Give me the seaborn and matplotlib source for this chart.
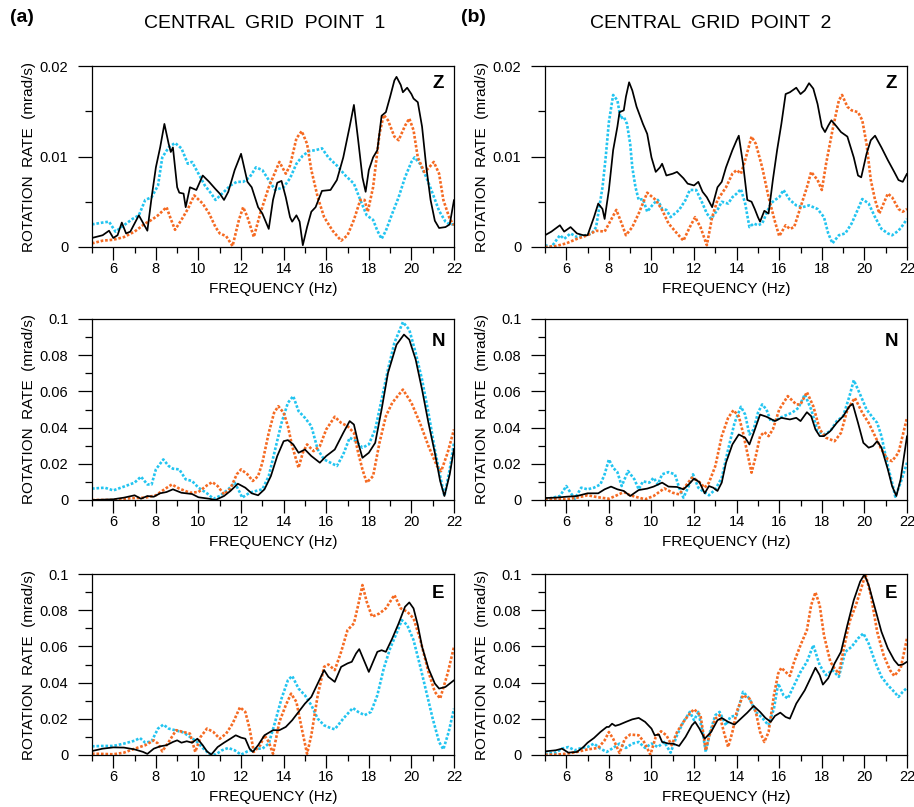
import numpy as np
import pandas as pd
import seaborn as sns
import matplotlib
matplotlib.use("Agg")
import matplotlib.pyplot as plt
from matplotlib.ticker import MultipleLocator, FuncFormatter

# ---------------- DATA ----------------
PANEL_TITLES = ["CENTRAL  GRID  POINT  1", "CENTRAL  GRID  POINT  2"]
PANEL_TAGS = ["(a)", "(b)"]
COMPONENTS = ["Z", "N", "E"]
X_LABEL = "FREQUENCY (Hz)"
Y_LABEL = "ROTATION  RATE  (mrad/s)"

# ---- Point 1, Z ----
A_Z_BLACK_F = [5.0,5.5,5.8,6.0,6.2,6.4,6.6,6.8,7.2,7.6,7.8,8.0,8.2,8.4,8.6,8.7,8.8,9.0,9.1,9.3,9.4,9.6,9.9,10.2,10.5,10.8,11.0,11.2,11.4,11.7,12.0,12.3,12.5,12.8,13.0,13.3,13.5,13.7,13.9,14.1,14.3,14.4,14.6,14.75,14.9,15.1,15.3,15.5,15.8,16.2,16.5,16.8,17.1,17.3,17.5,17.7,17.85,18.0,18.2,18.4,18.6,18.8,19.0,19.2,19.3,19.5,19.6,19.8,20.0,20.1,20.3,20.5,20.7,20.9,21.1,21.3,21.6,21.8,22.0]
A_Z_BLACK_V = [0.0010,0.0013,0.0018,0.0010,0.0013,0.0027,0.0015,0.0017,0.0035,0.0018,0.0055,0.0088,0.0110,0.0136,0.0114,0.0105,0.0110,0.0066,0.0060,0.0059,0.0044,0.0066,0.0063,0.0079,0.0072,0.0064,0.0059,0.0052,0.0061,0.0085,0.0103,0.0072,0.0066,0.0044,0.0037,0.0020,0.0052,0.0071,0.0073,0.0055,0.0033,0.0028,0.0035,0.0028,0.0002,0.0022,0.0039,0.0044,0.0062,0.0063,0.0074,0.0099,0.0133,0.0157,0.0118,0.0077,0.0061,0.0085,0.0099,0.0107,0.0145,0.0149,0.0166,0.0184,0.0188,0.0179,0.0171,0.0176,0.0169,0.0164,0.0160,0.0133,0.0088,0.0052,0.0029,0.0021,0.0022,0.0025,0.0052]
A_Z_ORANGE_F = [5.0,5.5,6.0,6.5,7.0,7.5,7.8,8.1,8.5,8.7,8.9,9.2,9.5,9.8,10.2,10.5,10.8,11.0,11.3,11.6,11.9,12.1,12.3,12.6,12.9,13.3,13.8,14.1,14.3,14.6,14.85,15.1,15.3,15.6,15.9,16.3,16.7,17.0,17.3,17.6,17.8,17.95,18.2,18.5,18.7,18.9,19.2,19.4,19.7,19.9,20.1,20.3,20.6,20.8,21.05,21.3,21.5,21.8,22.0]
A_Z_ORANGE_V = [0.0004,0.0007,0.0008,0.0011,0.0017,0.0026,0.0030,0.0035,0.0044,0.0031,0.0019,0.0030,0.0042,0.0057,0.0048,0.0037,0.0022,0.0015,0.0012,0.0001,0.0030,0.0044,0.0033,0.0011,0.0037,0.0066,0.0094,0.0081,0.0090,0.0120,0.0128,0.0114,0.0085,0.0055,0.0033,0.0018,0.0007,0.0013,0.0030,0.0052,0.0052,0.0039,0.0066,0.0125,0.0146,0.0140,0.0122,0.0118,0.0134,0.0142,0.0129,0.0099,0.0083,0.0087,0.0094,0.0081,0.0052,0.0031,0.0024]
A_Z_CYAN_F = [5.0,5.5,5.8,6.1,6.5,6.9,7.2,7.5,7.8,8.1,8.3,8.6,8.9,9.2,9.5,9.7,10.0,10.3,10.6,10.8,11.2,11.5,11.8,12.1,12.4,12.7,13.0,13.3,13.6,14.0,14.3,14.6,14.9,15.2,15.5,15.8,16.1,16.5,16.9,17.3,17.6,17.9,18.2,18.4,18.6,18.8,19.1,19.4,19.7,20.0,20.15,20.4,20.7,21.0,21.3,21.6,21.8,22.0]
A_Z_CYAN_V = [0.0025,0.0027,0.0028,0.0017,0.0024,0.0031,0.0035,0.0052,0.0055,0.0068,0.0099,0.0110,0.0115,0.0109,0.0092,0.0094,0.0081,0.0068,0.0059,0.0052,0.0061,0.0068,0.0072,0.0072,0.0077,0.0088,0.0085,0.0074,0.0063,0.0066,0.0076,0.0092,0.0101,0.0106,0.0107,0.0109,0.0099,0.0090,0.0079,0.0070,0.0052,0.0035,0.0030,0.0018,0.0009,0.0018,0.0037,0.0055,0.0077,0.0094,0.0099,0.0092,0.0077,0.0059,0.0040,0.0028,0.0025,0.0025]

# ---- Point 2, Z ----
B_Z_BLACK_F = [5.0,5.3,5.7,5.9,6.2,6.5,6.8,7.0,7.3,7.5,7.7,7.8,8.0,8.2,8.4,8.5,8.7,8.8,8.95,9.1,9.3,9.6,9.8,10.0,10.2,10.4,10.5,10.7,11.0,11.2,11.5,11.7,12.0,12.2,12.4,12.6,12.85,13.1,13.3,13.5,13.8,14.0,14.1,14.3,14.5,14.7,14.85,15.0,15.1,15.3,15.5,15.7,15.9,16.1,16.3,16.5,16.8,17.0,17.2,17.4,17.6,17.8,18.0,18.15,18.3,18.45,18.7,18.9,19.2,19.5,19.7,19.85,20.1,20.3,20.5,20.8,21.1,21.4,21.6,21.8,22.0]
B_Z_BLACK_V = [0.0013,0.0017,0.0024,0.0017,0.0022,0.0015,0.0013,0.0013,0.0033,0.0048,0.0042,0.0031,0.0063,0.0107,0.0133,0.0149,0.0151,0.0166,0.0182,0.0173,0.0155,0.0136,0.0125,0.0099,0.0083,0.0088,0.0092,0.0079,0.0081,0.0083,0.0076,0.0070,0.0068,0.0072,0.0061,0.0055,0.0044,0.0066,0.0072,0.0088,0.0107,0.0118,0.0123,0.0092,0.0052,0.0050,0.0042,0.0033,0.0028,0.0040,0.0037,0.0074,0.0107,0.0136,0.0169,0.0171,0.0176,0.0169,0.0173,0.0181,0.0175,0.0158,0.0133,0.0127,0.0134,0.0140,0.0133,0.0127,0.0122,0.0099,0.0079,0.0077,0.0103,0.0118,0.0123,0.0110,0.0096,0.0083,0.0074,0.0072,0.0081]
B_Z_ORANGE_F = [5.0,5.5,6.0,6.5,7.0,7.4,7.8,8.1,8.35,8.6,8.8,9.1,9.4,9.8,10.2,10.5,10.8,11.2,11.5,11.8,12.05,12.3,12.6,12.85,13.1,13.5,13.8,14.0,14.2,14.4,14.7,14.9,15.2,15.5,15.8,16.0,16.3,16.5,16.7,17.0,17.3,17.5,17.8,18.0,18.2,18.5,18.8,18.95,19.2,19.4,19.7,19.9,20.1,20.3,20.5,20.7,20.9,21.1,21.3,21.6,21.8,22.0]
B_Z_ORANGE_V = [0.0000,0.0001,0.0004,0.0009,0.0013,0.0018,0.0017,0.0030,0.0041,0.0026,0.0013,0.0022,0.0037,0.0060,0.0052,0.0041,0.0026,0.0015,0.0007,0.0022,0.0033,0.0022,0.0002,0.0033,0.0052,0.0066,0.0081,0.0085,0.0081,0.0096,0.0122,0.0114,0.0088,0.0055,0.0028,0.0012,0.0024,0.0020,0.0022,0.0044,0.0066,0.0083,0.0074,0.0063,0.0092,0.0129,0.0162,0.0168,0.0155,0.0151,0.0149,0.0140,0.0114,0.0074,0.0052,0.0037,0.0048,0.0059,0.0055,0.0042,0.0039,0.0042]
B_Z_CYAN_F = [5.0,5.3,5.7,5.9,6.2,6.5,6.9,7.2,7.4,7.55,7.7,7.85,8.0,8.2,8.4,8.55,8.7,8.85,9.0,9.1,9.25,9.4,9.6,9.8,10.1,10.3,10.5,10.7,10.9,11.3,11.6,11.8,12.1,12.4,12.6,12.8,13.1,13.3,13.6,13.8,14.0,14.2,14.4,14.6,14.8,15.0,15.2,15.4,15.6,15.8,16.0,16.2,16.5,16.8,17.1,17.4,17.8,18.1,18.3,18.5,18.8,19.1,19.4,19.7,19.9,20.2,20.5,20.8,21.1,21.3,21.6,21.8,22.0]
B_Z_CYAN_V = [0.0002,0.0000,0.0013,0.0009,0.0015,0.0011,0.0013,0.0015,0.0022,0.0044,0.0066,0.0099,0.0138,0.0168,0.0162,0.0142,0.0144,0.0136,0.0114,0.0088,0.0066,0.0052,0.0053,0.0039,0.0048,0.0052,0.0042,0.0041,0.0033,0.0041,0.0052,0.0063,0.0063,0.0048,0.0037,0.0031,0.0041,0.0050,0.0048,0.0055,0.0059,0.0064,0.0048,0.0022,0.0026,0.0024,0.0026,0.0037,0.0048,0.0052,0.0055,0.0063,0.0052,0.0046,0.0044,0.0046,0.0042,0.0033,0.0015,0.0004,0.0013,0.0015,0.0026,0.0042,0.0053,0.0048,0.0033,0.0020,0.0015,0.0013,0.0018,0.0024,0.0031]

# ---- Point 1, N ----
A_N_BLACK_F = [5.0,6.0,6.5,7.0,7.3,7.6,7.9,8.2,8.5,8.8,9.2,9.7,10.0,10.5,10.8,11.2,11.5,11.85,12.2,12.5,12.8,13.1,13.4,13.7,14.0,14.2,14.45,14.7,15.0,15.3,15.7,16.0,16.4,16.8,17.1,17.3,17.5,17.7,18.0,18.3,18.6,18.9,19.3,19.65,19.9,20.2,20.5,20.8,21.1,21.35,21.55,21.8,22.0]
A_N_BLACK_V = [0.0000,0.0004,0.0013,0.0026,0.0007,0.0022,0.0018,0.0037,0.0044,0.0059,0.0040,0.0033,0.0015,0.0007,0.0000,0.0022,0.0050,0.0090,0.0068,0.0037,0.0026,0.0059,0.0132,0.0243,0.0325,0.0331,0.0307,0.0261,0.0279,0.0243,0.0206,0.0243,0.0279,0.0371,0.0436,0.0417,0.0316,0.0233,0.0261,0.0316,0.0500,0.0702,0.0858,0.0914,0.0886,0.0776,0.0610,0.0426,0.0261,0.0105,0.0022,0.0142,0.0283]
A_N_ORANGE_F = [5.0,6.0,6.5,7.0,7.5,8.0,8.4,8.75,9.1,9.6,10.0,10.4,10.65,10.9,11.2,11.5,11.8,12.0,12.3,12.55,12.8,13.0,13.3,13.55,13.75,14.0,14.2,14.4,14.7,14.9,15.1,15.4,15.7,16.0,16.4,16.7,17.0,17.3,17.5,17.7,17.9,18.2,18.5,18.8,19.1,19.6,20.0,20.4,20.8,21.2,21.4,21.7,22.0]
A_N_ORANGE_V = [0.0000,0.0000,0.0007,0.0011,0.0013,0.0026,0.0059,0.0086,0.0063,0.0040,0.0044,0.0081,0.0099,0.0077,0.0031,0.0063,0.0142,0.0169,0.0142,0.0105,0.0132,0.0206,0.0371,0.0482,0.0518,0.0482,0.0408,0.0298,0.0178,0.0261,0.0307,0.0270,0.0298,0.0390,0.0460,0.0426,0.0408,0.0371,0.0261,0.0169,0.0096,0.0132,0.0316,0.0463,0.0537,0.0610,0.0537,0.0426,0.0298,0.0188,0.0160,0.0261,0.0390]
A_N_CYAN_F = [5.0,5.6,6.0,6.5,7.0,7.3,7.6,7.8,8.0,8.35,8.6,8.8,9.1,9.4,9.7,10.0,10.4,10.7,11.0,11.4,11.7,11.95,12.05,12.4,12.7,13.0,13.3,13.6,13.9,14.2,14.45,14.7,15.0,15.3,15.6,15.9,16.2,16.5,16.8,17.1,17.4,17.7,18.0,18.3,18.6,18.9,19.2,19.6,19.9,20.2,20.5,20.8,21.1,21.35,21.55,21.8,22.0]
A_N_CYAN_V = [0.0063,0.0068,0.0053,0.0074,0.0096,0.0129,0.0086,0.0086,0.0169,0.0224,0.0188,0.0173,0.0169,0.0114,0.0105,0.0068,0.0037,0.0007,0.0022,0.0059,0.0096,0.0040,0.0013,0.0040,0.0050,0.0059,0.0132,0.0279,0.0426,0.0537,0.0574,0.0491,0.0454,0.0408,0.0279,0.0224,0.0206,0.0188,0.0252,0.0344,0.0325,0.0289,0.0307,0.0390,0.0555,0.0721,0.0868,0.0983,0.0941,0.0813,0.0665,0.0482,0.0279,0.0132,0.0022,0.0169,0.0316]

# ---- Point 2, N ----
B_N_BLACK_F = [5.0,5.5,6.0,6.5,7.0,7.5,7.8,8.1,8.4,8.7,9.0,9.4,9.8,10.1,10.5,10.8,11.2,11.5,11.75,12.0,12.25,12.5,12.7,12.9,13.1,13.3,13.5,13.8,14.1,14.4,14.6,14.8,15.1,15.4,15.8,16.1,16.5,16.8,17.0,17.3,17.5,17.7,17.9,18.1,18.4,18.7,19.0,19.3,19.45,19.7,19.95,20.2,20.4,20.6,20.8,21.1,21.3,21.5,21.7,22.0]
B_N_BLACK_V = [0.0011,0.0013,0.0018,0.0022,0.0037,0.0037,0.0059,0.0074,0.0059,0.0050,0.0022,0.0055,0.0063,0.0074,0.0096,0.0074,0.0072,0.0059,0.0086,0.0118,0.0099,0.0037,0.0077,0.0068,0.0050,0.0096,0.0206,0.0307,0.0362,0.0344,0.0307,0.0371,0.0472,0.0460,0.0436,0.0454,0.0445,0.0454,0.0436,0.0485,0.0463,0.0390,0.0353,0.0353,0.0381,0.0426,0.0463,0.0518,0.0531,0.0426,0.0316,0.0289,0.0298,0.0325,0.0289,0.0169,0.0077,0.0022,0.0114,0.0353]
B_N_ORANGE_F = [5.0,6.0,6.5,7.0,7.5,8.0,8.3,8.7,9.0,9.4,9.7,10.1,10.6,11.0,11.3,11.6,11.9,12.2,12.5,12.7,13.0,13.3,13.6,13.85,14.1,14.3,14.5,14.7,14.9,15.1,15.3,15.5,15.7,16.0,16.4,16.8,17.0,17.3,17.6,17.9,18.2,18.6,18.9,19.2,19.55,19.9,20.2,20.5,20.8,21.1,21.3,21.6,22.0]
B_N_ORANGE_V = [0.0004,0.0004,0.0013,0.0026,0.0015,0.0007,0.0022,0.0044,0.0026,0.0013,0.0004,0.0022,0.0064,0.0040,0.0031,0.0077,0.0123,0.0105,0.0068,0.0096,0.0188,0.0353,0.0454,0.0496,0.0463,0.0371,0.0261,0.0151,0.0243,0.0353,0.0375,0.0353,0.0390,0.0500,0.0574,0.0528,0.0528,0.0596,0.0518,0.0390,0.0344,0.0325,0.0371,0.0500,0.0564,0.0482,0.0426,0.0353,0.0279,0.0224,0.0215,0.0261,0.0454]
B_N_CYAN_F = [5.0,5.3,5.7,6.0,6.2,6.4,6.7,7.0,7.3,7.6,7.8,8.0,8.2,8.4,8.6,8.9,9.2,9.4,9.6,9.9,10.1,10.3,10.5,10.8,11.1,11.3,11.5,11.75,11.95,12.2,12.4,12.7,13.0,13.3,13.6,13.9,14.2,14.4,14.6,14.8,15.0,15.2,15.4,15.6,15.9,16.2,16.6,16.9,17.2,17.5,17.8,18.1,18.4,18.7,19.0,19.3,19.5,19.8,20.1,20.4,20.6,20.8,21.1,21.3,21.45,21.7,22.0]
B_N_CYAN_V = [0.0004,0.0011,0.0022,0.0077,0.0040,0.0007,0.0068,0.0059,0.0068,0.0086,0.0142,0.0224,0.0178,0.0154,0.0077,0.0160,0.0114,0.0059,0.0103,0.0096,0.0123,0.0086,0.0142,0.0154,0.0142,0.0068,0.0013,0.0077,0.0142,0.0068,0.0050,0.0026,0.0059,0.0123,0.0279,0.0426,0.0515,0.0472,0.0362,0.0390,0.0482,0.0528,0.0500,0.0436,0.0445,0.0463,0.0482,0.0509,0.0583,0.0500,0.0381,0.0362,0.0381,0.0436,0.0463,0.0574,0.0662,0.0583,0.0500,0.0454,0.0426,0.0353,0.0188,0.0096,0.0018,0.0096,0.0206]

# ---- Point 1, E ----
A_E_BLACK_F = [5.0,5.5,6.0,6.5,7.0,7.4,7.6,7.9,8.2,8.5,8.8,9.0,9.2,9.45,9.7,9.95,10.2,10.4,10.6,10.9,11.2,11.5,11.75,12.0,12.2,12.4,12.55,12.8,13.1,13.5,13.8,14.1,14.4,14.7,15.0,15.3,15.6,15.9,16.1,16.4,16.7,17.0,17.2,17.4,17.55,17.8,18.0,18.2,18.4,18.6,18.8,19.1,19.4,19.7,19.9,20.1,20.3,20.5,20.8,21.1,21.3,21.6,22.0]
A_E_BLACK_V = [0.0022,0.0035,0.0042,0.0041,0.0031,0.0017,0.0006,0.0035,0.0048,0.0054,0.0072,0.0081,0.0068,0.0076,0.0068,0.0090,0.0054,0.0020,0.0002,0.0044,0.0068,0.0090,0.0109,0.0096,0.0090,0.0035,0.0017,0.0054,0.0109,0.0137,0.0137,0.0155,0.0192,0.0238,0.0284,0.0321,0.0395,0.0469,0.0432,0.0404,0.0487,0.0506,0.0515,0.0561,0.0585,0.0515,0.0459,0.0515,0.0570,0.0579,0.0570,0.0644,0.0727,0.0819,0.0843,0.0810,0.0718,0.0598,0.0478,0.0395,0.0367,0.0376,0.0413]
A_E_ORANGE_F = [5.0,5.5,6.0,6.5,7.0,7.5,7.9,8.1,8.3,8.6,8.95,9.3,9.6,9.85,10.1,10.4,10.7,11.0,11.3,11.6,11.95,12.2,12.4,12.6,12.9,13.1,13.3,13.5,13.8,14.1,14.35,14.6,14.85,15.1,15.3,15.6,15.9,16.1,16.4,16.7,17.0,17.3,17.5,17.7,17.9,18.15,18.5,18.8,19.2,19.5,19.8,20.1,20.4,20.8,21.1,21.35,21.7,22.0]
A_E_ORANGE_V = [0.0007,0.0006,0.0004,0.0013,0.0035,0.0054,0.0081,0.0063,0.0020,0.0072,0.0137,0.0127,0.0118,0.0017,0.0100,0.0146,0.0127,0.0090,0.0118,0.0173,0.0264,0.0238,0.0146,0.0017,0.0054,0.0109,0.0072,0.0007,0.0183,0.0275,0.0339,0.0293,0.0146,0.0007,0.0109,0.0330,0.0487,0.0500,0.0469,0.0570,0.0690,0.0727,0.0828,0.0939,0.0847,0.0764,0.0782,0.0810,0.0884,0.0810,0.0792,0.0755,0.0644,0.0459,0.0349,0.0312,0.0450,0.0598]
A_E_CYAN_F = [5.0,5.5,6.0,6.5,7.0,7.25,7.5,7.8,8.1,8.35,8.6,8.9,9.3,9.6,9.9,10.2,10.5,10.8,11.1,11.4,11.7,12.0,12.3,12.7,13.0,13.3,13.6,13.9,14.2,14.4,14.7,15.0,15.3,15.6,15.9,16.2,16.4,16.8,17.25,17.5,17.8,18.1,18.4,18.7,19.0,19.3,19.55,19.8,20.1,20.4,20.7,21.0,21.3,21.5,21.75,22.0]
A_E_CYAN_V = [0.0048,0.0050,0.0050,0.0063,0.0079,0.0094,0.0068,0.0076,0.0146,0.0168,0.0146,0.0137,0.0124,0.0100,0.0076,0.0039,0.0007,0.0002,0.0026,0.0039,0.0026,0.0002,0.0020,0.0035,0.0035,0.0063,0.0183,0.0312,0.0413,0.0437,0.0367,0.0330,0.0275,0.0201,0.0164,0.0149,0.0142,0.0201,0.0260,0.0238,0.0220,0.0238,0.0330,0.0478,0.0589,0.0672,0.0745,0.0718,0.0635,0.0496,0.0349,0.0201,0.0072,0.0031,0.0127,0.0256]

# ---- Point 2, E ----
B_E_BLACK_F = [5.0,5.5,5.8,6.1,6.5,6.8,7.0,7.3,7.6,7.9,8.0,8.15,8.3,8.5,8.8,9.1,9.4,9.7,10.0,10.15,10.35,10.5,10.8,11.0,11.3,11.6,11.9,12.05,12.25,12.5,12.8,13.1,13.3,13.6,13.9,14.2,14.5,14.8,15.1,15.35,15.6,15.8,16.05,16.3,16.5,16.8,17.2,17.5,17.7,17.9,18.05,18.3,18.6,18.9,19.2,19.5,19.8,20.0,20.2,20.5,20.8,21.1,21.4,21.6,21.8,22.0]
B_E_BLACK_V = [0.0020,0.0026,0.0035,0.0013,0.0017,0.0044,0.0068,0.0094,0.0127,0.0155,0.0155,0.0173,0.0161,0.0168,0.0183,0.0197,0.0205,0.0183,0.0146,0.0109,0.0113,0.0072,0.0063,0.0063,0.0050,0.0100,0.0164,0.0183,0.0146,0.0090,0.0127,0.0192,0.0205,0.0183,0.0168,0.0201,0.0234,0.0271,0.0238,0.0205,0.0183,0.0216,0.0234,0.0210,0.0201,0.0284,0.0358,0.0432,0.0482,0.0441,0.0389,0.0424,0.0506,0.0570,0.0718,0.0856,0.0958,0.0998,0.0939,0.0810,0.0681,0.0589,0.0524,0.0496,0.0500,0.0515]
B_E_ORANGE_F = [5.0,5.5,6.0,6.5,7.0,7.5,7.8,8.0,8.2,8.5,8.75,9.0,9.4,9.65,9.95,10.2,10.45,10.7,10.95,11.2,11.5,11.8,12.0,12.3,12.45,12.55,12.7,13.0,13.2,13.4,13.6,13.8,14.0,14.3,14.6,14.9,15.1,15.3,15.5,15.75,15.95,16.1,16.3,16.5,16.7,17.0,17.3,17.5,17.7,17.9,18.1,18.4,18.6,18.8,19.0,19.3,19.6,19.85,20.05,20.3,20.6,20.9,21.2,21.4,21.7,22.0]
B_E_ORANGE_V = [0.0002,0.0002,0.0007,0.0017,0.0031,0.0039,0.0081,0.0127,0.0090,0.0011,0.0090,0.0113,0.0109,0.0072,0.0002,0.0100,0.0131,0.0109,0.0054,0.0127,0.0183,0.0229,0.0253,0.0220,0.0109,0.0026,0.0100,0.0201,0.0220,0.0127,0.0044,0.0127,0.0238,0.0330,0.0312,0.0238,0.0127,0.0072,0.0127,0.0330,0.0450,0.0482,0.0459,0.0437,0.0515,0.0607,0.0690,0.0828,0.0899,0.0828,0.0662,0.0515,0.0478,0.0450,0.0570,0.0736,0.0828,0.0921,0.0998,0.0884,0.0681,0.0552,0.0469,0.0437,0.0478,0.0644]
B_E_CYAN_F = [5.0,5.5,5.8,6.1,6.4,6.7,7.0,7.3,7.6,7.9,8.2,8.5,8.8,9.1,9.4,9.7,10.0,10.3,10.6,10.9,11.2,11.5,11.8,12.0,12.2,12.4,12.55,12.75,13.0,13.2,13.5,13.7,14.0,14.3,14.6,14.9,15.2,15.5,15.75,15.95,16.2,16.4,16.7,17.0,17.3,17.6,17.9,18.2,18.5,18.8,19.1,19.4,19.7,19.95,20.2,20.5,20.8,21.1,21.4,21.6,21.8,22.0]
B_E_CYAN_V = [0.0007,0.0013,0.0035,0.0044,0.0026,0.0039,0.0044,0.0063,0.0035,0.0017,0.0039,0.0063,0.0039,0.0063,0.0072,0.0039,0.0063,0.0044,0.0072,0.0013,0.0109,0.0183,0.0238,0.0192,0.0238,0.0127,0.0017,0.0127,0.0220,0.0238,0.0164,0.0210,0.0220,0.0349,0.0312,0.0238,0.0205,0.0164,0.0256,0.0395,0.0330,0.0312,0.0386,0.0459,0.0515,0.0607,0.0496,0.0441,0.0469,0.0432,0.0570,0.0598,0.0644,0.0672,0.0616,0.0515,0.0432,0.0386,0.0349,0.0321,0.0349,0.0371]

SERIES = {
    ("a", "Z"): [(A_Z_BLACK_F, A_Z_BLACK_V), (A_Z_ORANGE_F, A_Z_ORANGE_V), (A_Z_CYAN_F, A_Z_CYAN_V)],
    ("b", "Z"): [(B_Z_BLACK_F, B_Z_BLACK_V), (B_Z_ORANGE_F, B_Z_ORANGE_V), (B_Z_CYAN_F, B_Z_CYAN_V)],
    ("a", "N"): [(A_N_BLACK_F, A_N_BLACK_V), (A_N_ORANGE_F, A_N_ORANGE_V), (A_N_CYAN_F, A_N_CYAN_V)],
    ("b", "N"): [(B_N_BLACK_F, B_N_BLACK_V), (B_N_ORANGE_F, B_N_ORANGE_V), (B_N_CYAN_F, B_N_CYAN_V)],
    ("a", "E"): [(A_E_BLACK_F, A_E_BLACK_V), (A_E_ORANGE_F, A_E_ORANGE_V), (A_E_CYAN_F, A_E_CYAN_V)],
    ("b", "E"): [(B_E_BLACK_F, B_E_BLACK_V), (B_E_ORANGE_F, B_E_ORANGE_V), (B_E_CYAN_F, B_E_CYAN_V)],
}
Y_MAX = {"Z": 0.02, "N": 0.1, "E": 0.1}
Y_MAJOR = {"Z": 0.01, "N": 0.02, "E": 0.02}
Y_MINOR = {"Z": 0.005, "N": 0.01, "E": 0.01}

# ---------------- STYLE ----------------
sns.set_style("ticks")
plt.rcParams["font.family"] = ["Liberation Sans", "DejaVu Sans"]
plt.rcParams["text.color"] = "black"
plt.rcParams["axes.labelcolor"] = "black"
plt.rcParams["xtick.color"] = "black"
plt.rcParams["ytick.color"] = "black"
plt.rcParams["axes.edgecolor"] = "black"

STYLES = [
    dict(color="black", linestyle="-", linewidth=1.25),
    dict(color="#f56a22", linestyle=(0, (1, 0.7)), linewidth=1.9),
    dict(color="#22c4f0", linestyle=(0, (1, 0.7)), linewidth=1.9),
]

W, H = 914, 807
fig = plt.figure(figsize=(W / 100, H / 100), dpi=100)

col_left = [92, 545]
row_top = [66, 319, 574]
ax_w, ax_h = 362, 181
comp_label_y = {"Z": 0.906, "N": 0.874, "E": 0.895}

fmt = FuncFormatter(lambda v, p: "0" if abs(v) < 1e-12 else f"{v:g}")

for ci, col in enumerate(["a", "b"]):
    for ri, comp in enumerate(COMPONENTS):
        left = col_left[ci] / W
        bottom = 1 - (row_top[ri] + ax_h) / H
        ax = fig.add_axes([left, bottom, ax_w / W, ax_h / H])
        # draw reversed so black is on top
        for (f, v), st in reversed(list(zip(SERIES[(col, comp)], STYLES))):
            df = pd.DataFrame({"freq": f, "rate": v})
            sns.lineplot(data=df, x="freq", y="rate", ax=ax, sort=False,
                         estimator=None, **st)
        ax.set_xlim(5, 22)
        ax.set_ylim(0, Y_MAX[comp])
        ax.xaxis.set_major_locator(MultipleLocator(2))
        ax.xaxis.set_minor_locator(MultipleLocator(1))
        ax.yaxis.set_major_locator(MultipleLocator(Y_MAJOR[comp]))
        ax.yaxis.set_minor_locator(MultipleLocator(Y_MINOR[comp]))
        ax.yaxis.set_major_formatter(fmt)
        ax.tick_params(axis="x", which="major", direction="out", length=9, width=0.9,
                       labelsize=10.5, pad=2, colors="black")
        ax.tick_params(axis="x", which="minor", direction="out", length=4.5, width=0.9)
        ax.tick_params(axis="y", which="major", direction="out", length=10, width=0.9,
                       labelsize=10.5, pad=7, colors="black")
        ax.tick_params(axis="y", which="minor", direction="out", length=5, width=0.9)
        for s in ax.spines.values():
            s.set_visible(True)
            s.set_linewidth(0.9)
            s.set_color("black")
        ax.set_xlabel(X_LABEL, fontsize=11, color="black")
        ax.set_ylabel(Y_LABEL, fontsize=11, color="black")
        ax.xaxis.set_label_coords(0.5, -0.195)
        ax.yaxis.set_label_coords(-0.155, 0.5)
        ax.text(0.956, comp_label_y[comp], comp, transform=ax.transAxes,
                ha="center", va="center", fontsize=13.5, fontweight="bold", color="black")
        for lab in ax.get_xticklabels():
            lab.set_clip_on(False)

fig.text(10 / W, 1 - 18 / H, PANEL_TAGS[0], ha="left", va="center", fontsize=14, fontweight="bold", color="black")
fig.text(461 / W, 1 - 18 / H, PANEL_TAGS[1], ha="left", va="center", fontsize=14, fontweight="bold", color="black")
fig.text(265 / W, 1 - 23 / H, PANEL_TITLES[0], ha="center", va="center", fontsize=14, color="black")
fig.text(711 / W, 1 - 23 / H, PANEL_TITLES[1], ha="center", va="center", fontsize=14, color="black")

fig.savefig("out.png", dpi=100, facecolor="white")
